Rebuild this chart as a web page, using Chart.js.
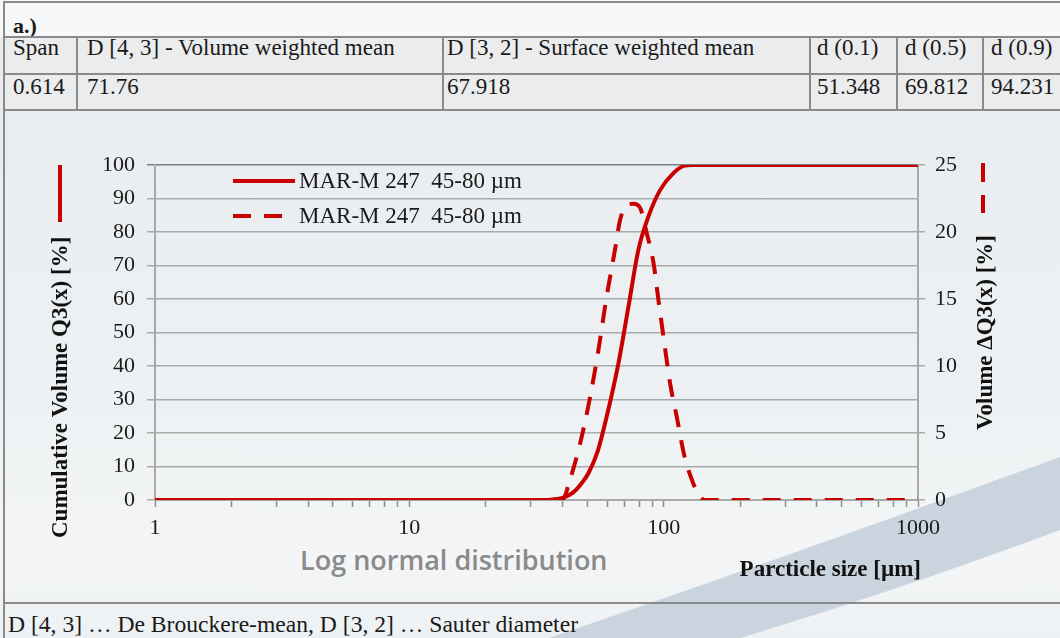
<!DOCTYPE html>
<html>
<head>
<meta charset="utf-8">
<script src="https://cdn.jsdelivr.net/npm/chart.js@4.4.1/dist/chart.umd.min.js"></script>
<style>
  body { margin: 0; width: 1060px; height: 638px; overflow: hidden; position: relative;
         font-family: "Liberation Serif", "Times New Roman", serif; background: #eef0f2; }
  #bg { position: absolute; left: 0; top: 110px; width: 1060px; height: 528px;
        background: linear-gradient(#eaedf0, #eef1f3 55%, #f3f5f6 85%, #eef1f3); }
  #toprow { position: absolute; left: 0; top: 0; width: 1060px; height: 37px; background: #f6f7f8; }
  #tablebg { position: absolute; left: 0; top: 37px; width: 1060px; height: 73px; background: #eaecee; }
  #swoosh { position: absolute; left: 0; top: 0; }
  .txt { position: absolute; font-size: 23px; line-height: 22px; color: #1a1a1a; white-space: nowrap; }
  .hl { position: absolute; height: 2px; background: #8a8a8a; }
  .vl { position: absolute; width: 2px; background: #8a8a8a; }
  #lognormal { position: absolute; left: 300px; top: 542px; font-family: "Open Sans", sans-serif;
               font-weight: 600; font-size: 27px; line-height: 36px; color: #8a8a8a; white-space: nowrap; }
  #chart { position: absolute; left: 0; top: 0; }
</style>
</head>
<body>
<div id="toprow"></div>
<div id="tablebg"></div>
<div id="bg"></div>
<svg id="swoosh" width="1060" height="638">
  <path d="M 549 638 Q 800 552 1060 457 L 1060 530 Q 900 590 740 638 Z" fill="#cad4df"/>
</svg>
<div id="table"></div>
<div id="lognormal">Log normal distribution</div>
<div class="txt" id="footnote" style="left:8px; top:613px; font-size:23.6px;">D [4, 3] … De Brouckere-mean, D [3, 2] … Sauter diameter</div>
<canvas id="chart" width="1060" height="638"></canvas>

<script>
// table contents
const tableHeaders = ["Span", "D [4, 3] - Volume weighted mean", "D [3, 2] - Surface weighted mean", "d (0.1)", "d (0.5)", "d (0.9)"];
const tableValues = ["0.614", "71.76", "67.918", "51.348", "69.812", "94.231"];

// cumulative volume Q3(x) [%] vs particle size [µm]
const q3Sizes = [1, 30, 36, 40, 44, 47, 50.6, 55, 59.7, 66.4, 72.7, 79.5, 87.1, 96.8, 109, 121, 130, 1000];
const q3Values = [0, 0, 0.1, 0.6, 2.2, 4.5, 8.0, 14.5, 24.9, 40.8, 57.7, 74.6, 84.6, 92.5, 97.5, 99.8, 100, 100];

// volume dQ3(x) [%] vs particle size [µm]
const dq3Sizes = [1, 38, 40.3, 42.8, 46.9, 51.4, 55.4, 59.7, 64.4, 67.4, 71.6, 76.0, 80.8, 85.8, 91.2, 95.4, 99.8, 106, 112.6, 121, 131, 139, 145, 1000];
const dq3Values = [0, 0, 0.1, 1.5, 4.2, 7.7, 11.2, 15.2, 18.7, 20.9, 22.0, 22.1, 21.8, 19.9, 17.7, 14.9, 12.2, 8.7, 6.2, 3.2, 1.2, 0.25, 0, 0];

const seriesLabels = ["MAR-M 247  45-80 µm", "MAR-M 247  45-80 µm"];

// x axis ticks (log), only decades get a label
const xTickValues = [1, 2, 3, 4, 5, 6, 7, 8, 9, 10, 20, 30, 40, 50, 60, 70, 80, 90, 100, 200, 300, 400, 500, 600, 700, 800, 900, 1000];
const xTickLabels = [1, 10, 100, 1000];

const yTitle = "Cumulative Volume Q3(x) [%]";
const y2Title = "Volume ΔQ3(x) [%]";
const xTitle = "Parcticle size [µm]";

const red = "#c80000";

// ---- table (html) ----
const colLeft = [4, 77, 443, 810, 897, 983, 1100];
const textPad = [9, 10, 4, 7, 8, 8];
let html = "";
html += '<div class="txt" style="left:13px; top:15px; font-weight:bold; font-size:22px;">a.)</div>';
for (let i = 0; i < tableHeaders.length; i++) {
    html += '<div class="txt" style="left:' + (colLeft[i] + textPad[i]) + 'px; top:37px;">' + tableHeaders[i] + '</div>';
    html += '<div class="txt" style="left:' + (colLeft[i] + textPad[i]) + 'px; top:76px;">' + tableValues[i] + '</div>';
    if (i > 0) {
        html += '<div class="vl" style="left:' + (colLeft[i] - 1) + 'px; top:37px; height:73px;"></div>';
    }
}
html += '<div class="hl" style="left:4px; top:1px; width:1056px;"></div>';
html += '<div class="hl" style="left:4px; top:36px; width:1056px;"></div>';
html += '<div class="hl" style="left:4px; top:73px; width:1056px;"></div>';
html += '<div class="hl" style="left:4px; top:109px; width:1056px;"></div>';
html += '<div class="hl" style="left:4px; top:602px; width:1056px;"></div>';
html += '<div class="vl" style="left:3px; top:1px; height:637px;"></div>';
document.getElementById("table").innerHTML = html;

// ---- chart ----
function toPoints(xs, ys) {
    const pts = [];
    for (let i = 0; i < xs.length; i++) {
        pts.push({x: xs[i], y: ys[i]});
    }
    return pts;
}

const decor = {
    id: "decor",
    afterDraw(chart) {
        const ctx = chart.ctx;
        const a = chart.chartArea;
        ctx.save();

        // little line samples next to the axis titles
        ctx.strokeStyle = red;
        ctx.lineWidth = 4;
        ctx.beginPath();
        ctx.moveTo(60, a.top);
        ctx.lineTo(60, a.top + 57);
        ctx.stroke();

        ctx.setLineDash([19, 13]);
        ctx.beginPath();
        ctx.moveTo(983, a.top - 2);
        ctx.lineTo(983, a.top + 48);
        ctx.stroke();
        ctx.setLineDash([]);

        // axis titles
        ctx.fillStyle = "#111";
        ctx.font = 'bold 23px "Liberation Serif"';
        ctx.textBaseline = "middle";
        ctx.textAlign = "left";
        ctx.save();
        ctx.translate(61, 538);
        ctx.rotate(-Math.PI / 2);
        ctx.fillText(yTitle, 0, 0);
        ctx.restore();

        ctx.save();
        ctx.translate(986, 430);
        ctx.rotate(-Math.PI / 2);
        ctx.fillText(y2Title, 0, 0);
        ctx.restore();

        ctx.textAlign = "right";
        ctx.textBaseline = "alphabetic";
        ctx.fillText(xTitle, a.right + 3, 576);

        // legend inside the plot
        ctx.font = '23px "Liberation Serif"';
        ctx.textAlign = "left";
        ctx.textBaseline = "middle";
        chart.data.datasets.forEach(function(ds, i) {
            const y = a.top + 16 + i * 35;
            ctx.strokeStyle = ds.borderColor;
            ctx.lineWidth = 4;
            ctx.setLineDash(ds.borderDash || []);
            ctx.beginPath();
            ctx.moveTo(233, y);
            ctx.lineTo(i == 0 ? 295 : 282, y);
            ctx.stroke();
            ctx.setLineDash([]);
            ctx.fillStyle = "#1a1a1a";
            ctx.fillText(ds.label, 299, y + 1);
        });
        ctx.restore();
    }
};

const tickFont = {family: '"Liberation Serif"', size: 22};
const gridGray = "#a9a9a9";

new Chart(document.getElementById("chart"), {
    type: "line",
    data: {
        datasets: [
            {
                label: seriesLabels[0],
                data: toPoints(q3Sizes, q3Values),
                yAxisID: "y",
                borderColor: red,
                borderWidth: 4,
                pointRadius: 0,
                cubicInterpolationMode: "monotone",
                fill: false
            },
            {
                label: seriesLabels[1],
                data: toPoints(dq3Sizes, dq3Values),
                yAxisID: "y2",
                borderColor: red,
                borderWidth: 4,
                borderDash: [18, 13],
                pointRadius: 0,
                cubicInterpolationMode: "monotone",
                fill: false
            }
        ]
    },
    options: {
        responsive: false,
        animation: false,
        layout: {padding: {top: 165, left: 0, right: 0, bottom: 0}},
        plugins: {
            legend: {display: false},
            tooltip: {enabled: false},
            title: {display: false}
        },
        scales: {
            x: {
                type: "logarithmic",
                min: 1,
                max: 1000,
                afterBuildTicks: function(scale) {
                    scale.ticks = xTickValues.map(v => ({value: v}));
                },
                afterFit: function(scale) { scale.height = 138; },
                ticks: {
                    autoSkip: false,
                    maxRotation: 0,
                    padding: 8,
                    color: "#1a1a1a",
                    font: tickFont,
                    callback: function(value) {
                        return xTickLabels.includes(value) ? String(value) : "";
                    }
                },
                grid: {drawOnChartArea: false, drawTicks: true, tickLength: 7, tickColor: "#8f8f8f", tickWidth: 1.5},
                border: {display: true, color: gridGray, width: 2}
            },
            y: {
                position: "left",
                min: 0,
                max: 100,
                afterFit: function(scale) { scale.width = 155; },
                ticks: {stepSize: 10, padding: 12, color: "#1a1a1a", font: tickFont},
                grid: {
                    color: function(c) { return c.tick && c.tick.value === 100 ? "#7d7d7d" : gridGray; },
                    lineWidth: 1.5,
                    tickLength: 8
                },
                border: {display: true, color: gridGray, width: 2}
            },
            y2: {
                position: "right",
                min: 0,
                max: 25,
                afterFit: function(scale) { scale.width = 142; },
                ticks: {stepSize: 5, padding: 10, color: "#1a1a1a", font: tickFont},
                grid: {drawOnChartArea: false, tickLength: 7, color: gridGray, lineWidth: 1.5},
                border: {display: true, color: gridGray, width: 2}
            }
        }
    },
    plugins: [decor]
});
</script>
</body>
</html>
